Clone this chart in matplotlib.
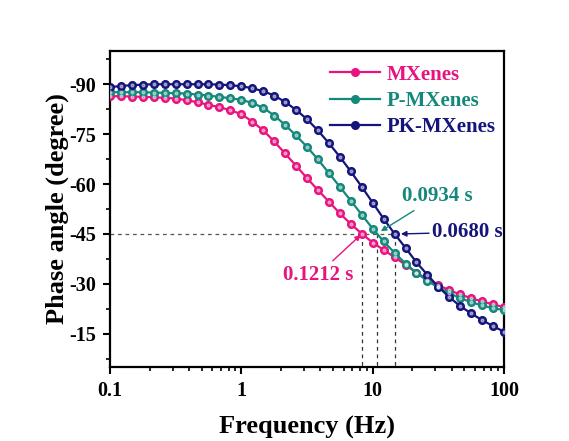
import matplotlib
matplotlib.use("Agg")
import matplotlib.pyplot as plt
from matplotlib.ticker import FixedLocator, MultipleLocator, LogLocator, NullFormatter

plt.rcParams['font.family'] = ['Liberation Serif', 'DejaVu Serif']
plt.rcParams['font.weight'] = 'bold'
plt.rcParams['axes.unicode_minus'] = False

# frequencies (Hz), 12 points per decade
freq = [0.1, 0.121, 0.147, 0.178, 0.215, 0.261, 0.316, 0.383, 0.464, 0.562, 0.681, 0.825,
        1, 1.21, 1.47, 1.78, 2.15, 2.61, 3.16, 3.83, 4.64, 5.62, 6.81, 8.25,
        10, 12.1, 14.7, 17.8, 21.5, 26.1, 31.6, 38.3, 46.4, 56.2, 68.1, 82.5, 100]

# phase angles (degree)
mxenes = [-86.4, -86.4, -86.3, -86.2, -86.1, -85.9, -85.7, -85.2, -84.6, -83.8, -83.1, -82.2,
          -81.0, -78.8, -76.1, -72.8, -69.2, -65.5, -61.8, -58.2, -54.7, -51.2, -48.0, -45.1,
          -42.4, -40.2, -38.0, -35.7, -33.4, -31.3, -29.6, -28.1, -26.8, -25.7, -24.7, -23.8, -23.0]
p_mxenes = [-87.6, -87.6, -87.6, -87.6, -87.5, -87.4, -87.3, -87.2, -86.9, -86.6, -86.2, -85.8,
            -85.3, -84.4, -82.9, -80.6, -77.8, -74.6, -71.2, -67.4, -63.3, -59.2, -55.0, -50.8,
            -46.6, -42.8, -39.3, -36.1, -33.3, -30.9, -28.9, -27.2, -25.7, -24.5, -23.5, -22.7, -22.1]
pk_mxenes = [-89.1, -89.5, -89.7, -89.9, -90.0, -90.0, -90.0, -90.0, -90.0, -90.0, -89.9, -89.7,
             -89.4, -88.8, -87.9, -86.6, -84.7, -82.3, -79.5, -76.1, -72.3, -68.2, -63.8, -59.2,
             -54.4, -49.6, -45.0, -40.8, -36.5, -32.7, -29.1, -26.0, -23.3, -21.1, -19.1, -17.3, -15.6]

labels = ["MXenes", "P-MXenes", "PK-MXenes"]
colors = ["#E8137F", "#14887A", "#14147C"]

# relaxation times and the frequency where each curve hits -45
tau_text = ["0.1212 s", "0.0934 s", "0.0680 s"]
f45 = [8.25, 10.7, 14.7]

fig = plt.figure(figsize=(5.69, 4.41), dpi=100)
ax = fig.add_axes([0.1933, 0.1678, 0.6925, 0.7166])

for y, lab, c in zip([mxenes, p_mxenes, pk_mxenes], labels, colors):
    ax.plot(freq, y, '-o', color=c, lw=1.6, ms=5.5, mec=c, mfc=c, label=lab, zorder=3)
    # little highlight so the balls look shaded
    ax.plot(freq, y, 'o', color='white', ms=2, alpha=0.45, zorder=4)

# dashed guide lines at -45 degree
ax.plot([0.1, f45[2]], [-45, -45], '--', color='#555555', lw=0.9, dashes=(3, 3), zorder=1)
for f in f45:
    ax.plot([f, f], [-45, -5], '--', color='#333333', lw=0.9, dashes=(3, 3), zorder=1)

ax.set_xscale('log')
ax.set_xlim(0.1, 100)
ax.set_ylim(-5, -100)

ax.xaxis.set_major_locator(FixedLocator([0.1, 1, 10, 100]))
ax.set_xticklabels(["0.1", "1", "10", "100"])
ax.xaxis.set_minor_locator(LogLocator(base=10, subs=range(2, 10)))
ax.xaxis.set_minor_formatter(NullFormatter())
ax.yaxis.set_major_locator(FixedLocator([-90, -75, -60, -45, -30, -15]))
ax.yaxis.set_minor_locator(MultipleLocator(7.5))

ax.tick_params(which='major', direction='out', length=5, width=1.5, labelsize=14.5, pad=5)
ax.tick_params(which='minor', direction='out', length=3, width=1.2)
for s in ax.spines.values():
    s.set_linewidth(1.6)

ax.set_xlabel("Frequency (Hz)", fontsize=19, fontweight='bold', labelpad=11)
ax.set_ylabel("Phase angle (degree)", fontsize=19, fontweight='bold', labelpad=0)

leg = ax.legend(loc='upper left', bbox_to_anchor=(0.512, 1.016), frameon=False,
                fontsize=15, handlelength=2.4, handletextpad=0.3, labelspacing=0.3)
for t, c in zip(leg.get_texts(), colors):
    t.set_color(c)

# annotations with arrows
ax.annotate(tau_text[0], xy=(f45[0], -45), xytext=(2.07, -32.8), color=colors[0],
            fontsize=15, fontweight='bold', va='center',
            arrowprops=dict(arrowstyle='-|>', color=colors[0], lw=1, mutation_scale=8,
                            shrinkA=1, shrinkB=1))
ax.annotate(tau_text[1], xy=(11.3, -45.6), xytext=(16.6, -56.3), color=colors[1],
            fontsize=15, fontweight='bold', va='center',
            arrowprops=dict(arrowstyle='-|>', color=colors[1], lw=1, mutation_scale=8,
                            shrinkA=2, shrinkB=1))
ax.annotate(tau_text[2], xy=(16.4, -45), xytext=(28.2, -45.5), color=colors[2],
            fontsize=15, fontweight='bold', va='center',
            arrowprops=dict(arrowstyle='-|>', color=colors[2], lw=1, mutation_scale=8,
                            shrinkA=0, shrinkB=0))

fig.savefig("out.png", dpi=100)
